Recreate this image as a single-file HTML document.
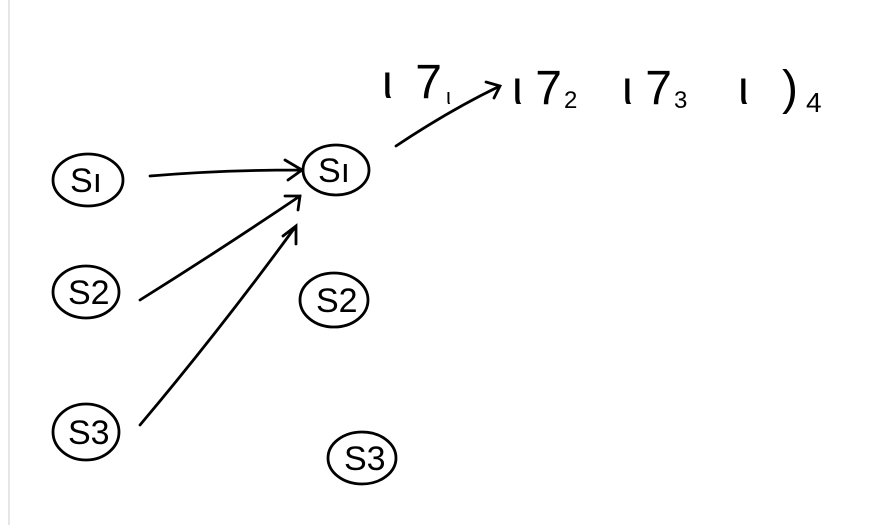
<!DOCTYPE html>
<html><head><meta charset="utf-8"><style>
html,body{margin:0;padding:0;background:#fff;}
svg{display:block;}
text{font-family:"Liberation Sans",sans-serif;fill:#000;}
</style></head><body>
<svg width="896" height="525" viewBox="0 0 896 525">
<line x1="9" y1="0" x2="9" y2="525" stroke="#e6e6e6" stroke-width="2"/>
<g fill="none" stroke="#000" stroke-width="2.8" stroke-linecap="round">
<g>
<ellipse cx="88" cy="180" rx="35" ry="26"/>
</g>
<g>
<ellipse cx="86" cy="292" rx="33" ry="26"/>
</g>
<g>
<ellipse cx="86" cy="432" rx="33" ry="28"/>
</g>
<g>
<ellipse cx="336" cy="170" rx="33" ry="25"/>
</g>
<g>
<ellipse cx="334" cy="300" rx="34" ry="27"/>
</g>
<g>
<ellipse cx="362" cy="458" rx="34" ry="26"/>
</g>
<path d="M150 176 Q220 170 300 170 M285 160 L302 170 L288 180"/>
<path d="M140 300 Q220 250 300 196 M285 196 L300 196 L298 210"/>
<path d="M140 425 Q220 330 296 226 M283 236 L296 226 L296 244"/>
<path d="M396 146 Q450 110 500 86 M486 82 L500 86 L494 98"/>
</g>
<g font-size="34">
<text x="70" y="192">Sı</text>
<text x="68" y="304">S2</text>
<text x="68" y="444">S3</text>
<text x="318" y="182">Sı</text>
<text x="316" y="312">S2</text>
<text x="344" y="470">S3</text>
</g>
<g font-size="48">
<text x="382" y="98" textLength="60">ι7</text>
<text x="446" y="104" font-size="22">ι</text>
<text x="512" y="104" textLength="50">ι7</text>
<text x="564" y="108" font-size="24">2</text>
<text x="622" y="104" textLength="50">ι7</text>
<text x="674" y="108" font-size="24">3</text>
<text x="738" y="104" textLength="60">ι)</text>
<text x="806" y="112" font-size="28">4</text>
</g>
</svg>
</body></html>
